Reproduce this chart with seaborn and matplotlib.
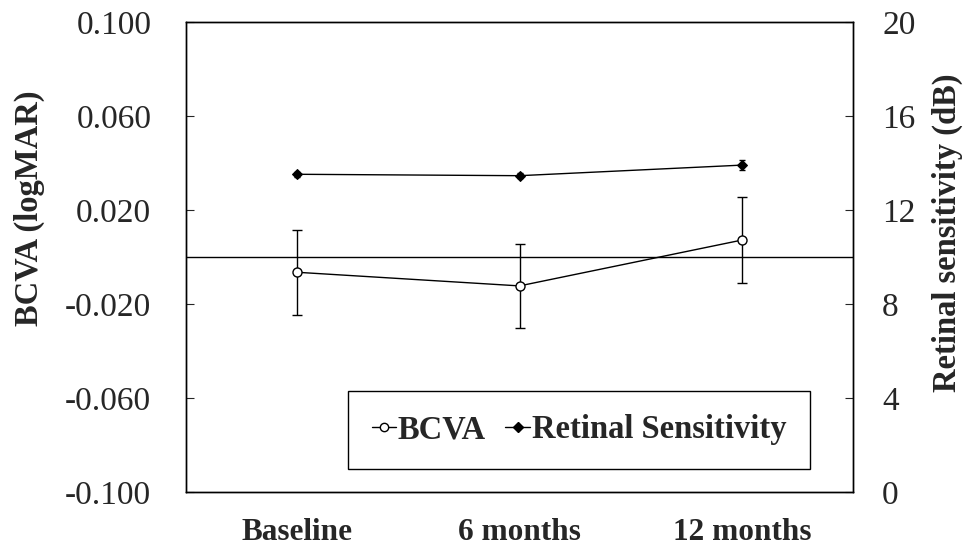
import numpy as np
import pandas as pd
import matplotlib
matplotlib.use("Agg")
import matplotlib.pyplot as plt
from matplotlib.lines import Line2D
import seaborn as sns

# ---- DATA ----
timepoints = ["Baseline", "6 months", "12 months"]
bcva_mean = [-0.0065, -0.0123, 0.0072]
bcva_err = [0.0180, 0.0180, 0.0183]
rs_mean = [13.52, 13.46, 13.91]
rs_err = [0.10, 0.10, 0.22]

left_ticks = [-0.100, -0.060, -0.020, 0.020, 0.060, 0.100]
right_ticks = [0, 4, 8, 12, 16, 20]

df = pd.DataFrame({
    "time": timepoints,
    "pos": np.arange(len(timepoints)),
    "bcva": bcva_mean,
    "bcva_err": bcva_err,
    "rs": rs_mean,
    "rs_err": rs_err,
})

sns.set_style("ticks")
plt.rcParams["font.family"] = ["Liberation Serif", "DejaVu Serif"]
plt.rcParams["axes.linewidth"] = 1.0

fig = plt.figure(figsize=(9.76, 5.49), dpi=100)
ax = fig.add_axes([186 / 976, 57 / 549, 667 / 976, 470 / 549])
ax2 = ax.twinx()

# ---- BCVA (left axis) ----
ax.axhline(0, color="black", lw=1.0, zorder=1)
ax.errorbar(df["pos"], df["bcva"], yerr=df["bcva_err"], fmt="none",
            ecolor="black", elinewidth=1.0, capsize=3.5, capthick=1.0, zorder=2)
sns.lineplot(data=df, x="pos", y="bcva", ax=ax, color="black", lw=1.0,
             marker="o", markersize=6.5, markerfacecolor="white",
             markeredgecolor="black", markeredgewidth=1.0, zorder=3)

# ---- Retinal sensitivity (right axis) ----
ax2.errorbar(df["pos"], df["rs"], yerr=df["rs_err"], fmt="none",
             ecolor="black", elinewidth=1.0, capsize=2.5, capthick=1.0, zorder=2)
sns.lineplot(data=df, x="pos", y="rs", ax=ax2, color="black", lw=1.0,
             marker="D", markersize=5.5, markerfacecolor="black",
             markeredgecolor="black", zorder=3)

ax.set_xlim(-0.5, 2.5)
ax.set_ylim(-0.100, 0.100)
ax2.set_ylim(0, 20)

ax.set_yticks(left_ticks)
ax.set_yticklabels([f"{t:.3f}" for t in left_ticks], fontsize=24)
ax2.set_yticks(right_ticks)
ax2.set_yticklabels([str(t) for t in right_ticks], fontsize=24)

ax.set_xticks(df["pos"])
ax.set_xticklabels(timepoints, fontsize=22.5, fontweight="bold")
ax.tick_params(axis="x", length=0, pad=19)
ax.tick_params(axis="y", direction="in", length=6, pad=25)
ax2.tick_params(axis="y", direction="in", length=6, pad=21)

ax.set_xlabel("")
ax.set_ylabel("BCVA (logMAR)", fontsize=23.5, fontweight="bold")
ax2.set_ylabel("Retinal sensitivity (dB)", fontsize=23.5, fontweight="bold")
ax.yaxis.set_label_coords(-0.211, 0.604)
ax2.yaxis.set_label_coords(1.118, 0.551)

for a in (ax, ax2):
    for s in a.spines.values():
        s.set_visible(True)
        s.set_color("black")
        s.set_linewidth(1.0)

handles = [
    Line2D([], [], color="black", lw=1.0, marker="o", markersize=6,
           markerfacecolor="white", markeredgecolor="black"),
    Line2D([], [], color="black", lw=1.0, marker="D", markersize=5,
           markerfacecolor="black", markeredgecolor="black"),
]
leg = ax2.legend(handles, ["BCVA", "Retinal Sensitivity"], loc="center",
                 bbox_to_anchor=(0.589, 0.132), ncol=2, frameon=True,
                 fancybox=False, edgecolor="black", framealpha=1,
                 prop={"family": ["Liberation Serif"], "weight": "bold", "size": 23.5},
                 handlelength=0.75, handletextpad=0.05, columnspacing=0.6,
                 borderpad=0.72)
leg.get_frame().set_linewidth(1.0)

fig.savefig("out.png", dpi=100)
